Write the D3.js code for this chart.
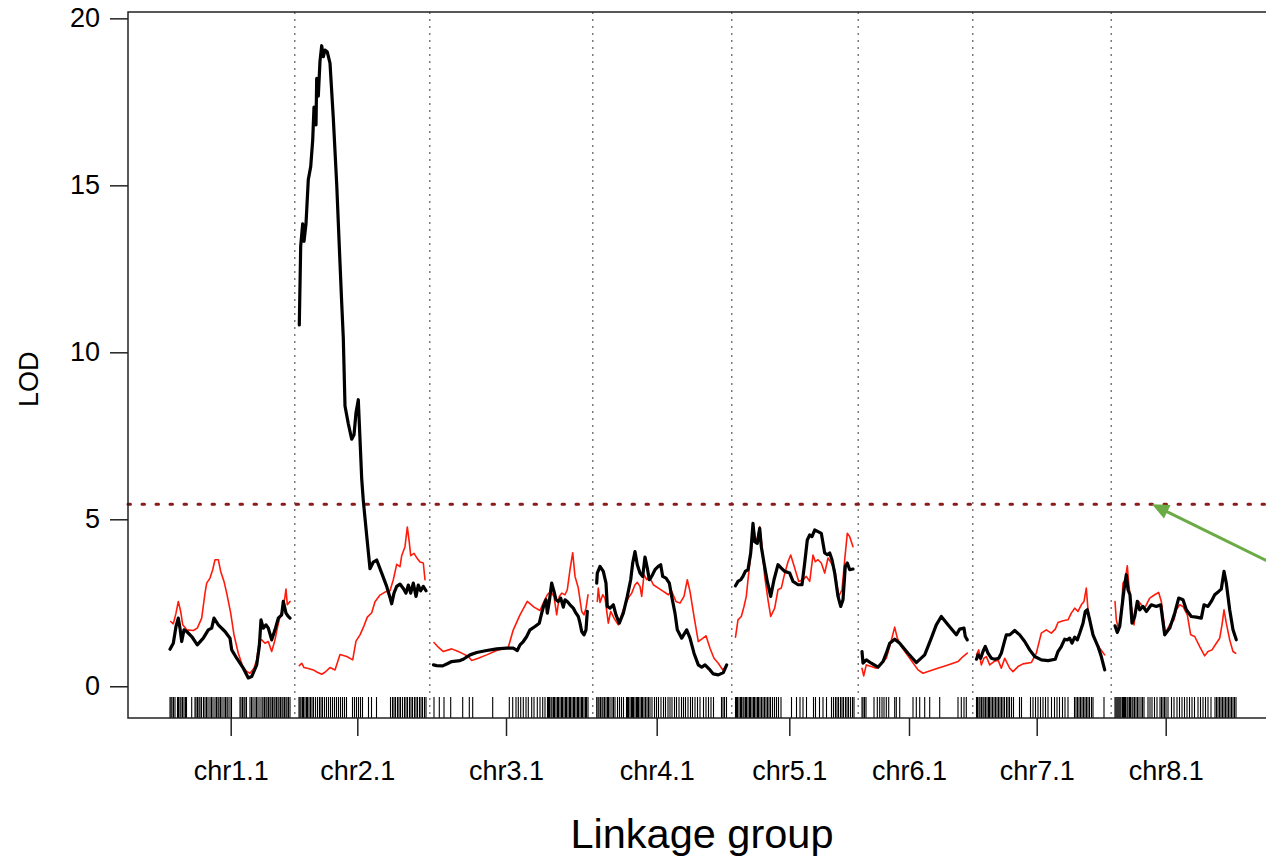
<!DOCTYPE html>
<html>
<head>
<meta charset="utf-8">
<script src="https://cdn.jsdelivr.net/npm/d3@7"></script>
<style>
  html, body { margin: 0; padding: 0; background: #fff; }
  svg { display: block; font-family: "Liberation Sans", Helvetica, Arial, sans-serif; }
</style>
</head>
<body>
<svg id="chart" width="1266" height="858"></svg>
<script>
// ---- genome layout (cM) ----
const chrNames   = ["chr1.1", "chr2.1", "chr3.1", "chr4.1", "chr5.1", "chr6.1", "chr7.1", "chr8.1"];
const chrLengths = [121, 127.5, 155.5, 131.5, 119, 107, 131, 122];
const chrLabelPos = [60.7, 58.8, 72.5, 60.2, 53.8, 47, 60.2, 50.7];
const chrGap = 7.5;
const lodTicks = [0, 5, 10, 15, 20];
const threshold = 5.45;

// ---- LOD profile, trait 1 (black): [position cM, LOD] ----
const lod1Chr1 = [[0,1.11],[3.3,1.29],[6,1.79],[8.3,2.04],[10,1.74],[11.7,1.34],[14,1.69],[16.7,1.64],[21.7,1.49],[27.3,1.24],[33.3,1.44],[38.3,1.69],[41.7,1.74],[44,2.04],[48.3,1.84],[55,1.64],[60,1.44],[61.7,1.09],[66.7,0.84],[73.3,0.54],[78.3,0.25],[81.7,0.29],[86.7,0.64],[89.3,1.19],[91,1.99],[93.3,1.74],[96,1.84],[98.3,1.74],[101.7,1.39],[105,1.69],[108.3,2.04],[111.7,2.14],[113.3,2.54],[116,2.19],[118.3,2.09],[120,2.04]];
const lod1Chr2 = [[0.8,10.82],[2.2,13.19],[4.2,13.85],[5.5,13.32],[7.5,13.85],[9.8,15.17],[12.2,15.56],[14.2,16.35],[15.5,17.34],[17.5,16.81],[18.2,18.2],[19.8,17.67],[21.5,18.72],[23.2,19.18],[24.8,18.85],[26.5,19.05],[28.8,18.99],[31.5,18.66],[34.8,17.01],[38.2,15.04],[41.5,12.67],[43.2,11.48],[44.8,10.43],[46.5,8.39],[49.8,7.86],[53.2,7.4],[55.5,7.53],[57.5,8.19],[59.8,8.58],[61.5,7.4],[63.2,6.22],[64.8,5.56],[68.2,4.51],[71.5,3.52],[74.8,3.72],[78.2,3.78],[83.2,3.39],[88.2,2.99],[91.5,2.66],[93.2,2.47],[95.5,2.79],[98.2,2.99],[101.5,3.06],[104.8,2.93],[107.5,2.79],[109.8,3.03],[112.2,2.79],[114.8,3.09],[117.5,2.69],[119.8,3.03],[122.2,2.86],[124.8,2.99],[127.5,2.86]];
const lod1Chr3 = [[0,0.64],[3.2,0.62],[9.2,0.61],[14.8,0.69],[18.2,0.74],[26.5,0.77],[29.8,0.81],[36.5,0.94],[43.2,1.01],[53.2,1.07],[63.2,1.12],[73.2,1.14],[79.8,1.14],[83.8,1.07],[86.5,1.24],[89.8,1.34],[93.2,1.49],[96.5,1.69],[101.5,1.79],[105.8,1.89],[108.2,2.19],[110.5,2.44],[112.5,2.59],[113.8,2.19],[115.8,2.54],[118.2,3.09],[120.5,2.84],[122.5,2.59],[124.8,2.54],[127.2,2.64],[129.8,2.37],[131.5,2.59],[133.8,2.54],[136.5,2.44],[139.8,2.34],[142.5,2.19],[144.8,2.09],[146.5,1.89],[148.2,1.64],[150.5,1.54],[152.5,1.69],[153.8,2.24]];
const lod1Chr4 = [[0.2,3.09],[0.8,3.39],[3.5,3.59],[6.8,3.44],[9.5,3.09],[10.8,2.39],[13.5,2.34],[16.8,2.44],[19.5,2.14],[22.8,1.89],[26.8,2.19],[30.8,2.69],[34.2,3.19],[36.2,3.69],[38.5,4.03],[40.8,3.64],[43.5,3.39],[46.2,3.29],[48.5,3.87],[50.8,3.54],[52.8,3.19],[55.2,3.29],[58.5,3.49],[61.8,3.59],[64.2,3.64],[66.2,3.29],[69.5,3.24],[72.8,3.09],[75.2,2.69],[78.5,2.19],[80.8,1.69],[85.2,1.44],[90.2,1.69],[93.5,1.44],[97.5,0.99],[101.8,0.64],[105.2,0.57],[108.5,0.64],[113.5,0.49],[116.8,0.37],[121.8,0.34],[126.8,0.41],[130.2,0.64]];
const lod1Chr5 = [[0,3.01],[2.5,3.14],[5.2,3.19],[7.5,3.29],[9.8,3.44],[12.5,3.49],[15.2,3.99],[17.5,4.88],[19.2,4.33],[21.8,4.28],[24.2,4.73],[25.8,4.18],[28.5,3.69],[31.8,3.14],[35.2,2.69],[38.5,3.19],[42.5,3.64],[45.8,3.54],[49.2,3.44],[54.2,3.39],[57.5,3.14],[62.5,3.04],[66.5,3.04],[69.2,3.69],[71.8,4.38],[74.2,4.53],[76.5,4.48],[79.2,4.68],[82.5,4.63],[85.8,4.58],[89.2,3.99],[91.8,3.94],[94.2,3.99],[96.5,3.79],[99.2,3.39],[102.5,2.69],[105.2,2.39],[107.5,2.59],[109.8,3.59],[111.8,3.69],[114.2,3.49],[117.5,3.51]];
const lod1Chr6 = [[0,1.04],[1,0.69],[4.3,0.79],[9.3,0.69],[16,0.57],[21,0.74],[24.3,0.99],[27.7,1.29],[32.7,1.41],[37.7,1.29],[46,0.99],[54.3,0.71],[62.7,0.94],[69.3,1.44],[74.3,1.84],[79.3,2.09],[86,1.84],[94.3,1.54],[97.7,1.71],[102,1.74],[103.3,1.49],[105.3,1.39]];
const lod1Chr7 = [[0,0.81],[1.5,0.94],[4.2,0.84],[6.5,1.04],[8.8,1.19],[11.5,0.99],[14.8,0.84],[18.2,0.81],[22.2,0.84],[24.8,0.99],[27.5,1.29],[29.8,1.54],[33.2,1.54],[38.2,1.67],[43.2,1.54],[48.2,1.34],[53.2,1.09],[58.2,0.89],[64.8,0.79],[71.5,0.77],[78.8,0.81],[81.5,1.04],[84.8,1.19],[88.2,1.41],[90.8,1.39],[93.2,1.44],[95.5,1.29],[98.2,1.47],[100.8,1.39],[103.2,1.59],[106.5,1.89],[108.8,2.24],[110.8,2.29],[113.2,1.99],[116.5,1.54],[121.5,1.19],[124.8,0.89],[128.2,0.49]];
const lod1Chr8 = [[0,1.81],[2.3,1.61],[4.7,1.79],[7,2.39],[9,2.89],[11.3,3.34],[13,2.89],[15,2.74],[17,1.89],[19.7,2.09],[22.3,2.54],[24.7,2.29],[28,2.39],[31.3,2.24],[36.3,2.44],[41.3,2.39],[45.7,2.44],[49.7,1.54],[54.7,1.74],[59.7,2.19],[63.7,2.64],[68,2.59],[71.3,2.29],[76.3,2.09],[81.3,2.07],[86.3,2.04],[89,2.44],[93,2.39],[96.3,2.54],[99.7,2.74],[103.7,2.84],[106.3,2.91],[109,3.44],[111.3,3.09],[114.7,2.29],[118,1.69],[121.3,1.39]];

// ---- LOD profile, trait 2 (red): [position cM, LOD] ----
const lod2Chr1 = [[0.7,1.94],[3.3,1.87],[6,2.19],[8.3,2.54],[10.7,2.24],[12.7,1.84],[16.7,1.69],[23.3,1.67],[27.3,1.74],[31.7,2.04],[35,2.79],[36.7,3.09],[40,3.24],[42.7,3.49],[45,3.79],[48.3,3.79],[50.7,3.44],[54,3.14],[56.7,2.79],[60.7,2.19],[64,1.54],[68.3,0.99],[72.7,0.59],[76.7,0.44],[80,0.39],[84,0.54],[86.7,0.79],[89.3,1.39],[91.7,1.39],[95,1.29],[98.3,1.34],[101.7,1.04],[105,1.39],[107.3,1.74],[110,2.09],[112.7,2.29],[115,2.69],[116,2.91],[117.3,2.44],[120,2.54]];
const lod2Chr2 = [[0.8,0.62],[3.2,0.69],[5.5,0.56],[9.8,0.53],[14.8,0.49],[18.8,0.42],[23.2,0.36],[26.5,0.42],[31.5,0.56],[36.5,0.49],[41.5,0.95],[48.2,0.89],[54.2,0.79],[57.5,1.35],[61.5,1.54],[65.5,1.81],[68.8,2.07],[73.2,2.2],[76.5,2.53],[81.5,2.73],[86.5,2.82],[91.5,2.86],[94.8,3.19],[98.2,3.65],[101.5,3.58],[103.2,3.91],[106.5,4.18],[108.8,4.77],[110.8,4.31],[112.2,3.91],[115.5,3.98],[118.2,3.85],[121.5,3.72],[124.8,3.69],[126.5,3.19]];
const lod2Chr3 = [[0.5,1.31],[4.8,1.17],[9.8,1.04],[18.2,1.12],[24.8,1.04],[29.8,0.97],[34.8,0.89],[38.2,0.77],[44.8,0.84],[53.2,0.94],[63.2,1.07],[74.8,1.17],[79.8,1.69],[86.5,2.14],[93.8,2.54],[100.5,2.37],[106.5,2.27],[110.5,2.54],[113.8,2.74],[117.2,2.84],[120.5,2.69],[123.2,2.14],[125.8,2.69],[128.2,2.79],[131.5,2.74],[133.8,2.89],[136.5,3.49],[139.2,4.0],[141.5,3.29],[144.8,2.94],[148.2,2.24],[150.5,2.14],[152.5,2.34],[154.5,2.74]];
const lod2Chr4 = [[0.8,2.54],[1.8,2.94],[3.5,2.51],[6.2,2.74],[8.5,2.64],[11.8,1.89],[14.2,2.24],[17.5,2.04],[21.8,1.84],[26.8,2.29],[31.8,2.64],[35.2,2.79],[38.5,3.04],[40.8,3.11],[43.5,2.99],[45.2,2.69],[47.5,3.34],[50.2,3.19],[52.8,3.29],[56.8,3.04],[61.8,2.94],[66.8,2.84],[71.8,2.74],[75.2,2.84],[79.5,2.54],[83.5,2.49],[87.5,2.69],[90.8,3.19],[93.5,2.84],[97.5,2.09],[101.8,1.34],[105.2,1.41],[109.5,1.51],[113.5,1.14],[117.5,0.84],[121.8,0.69],[126.2,0.49],[129.5,0.59]];
const lod2Chr5 = [[0,1.47],[2.5,1.99],[5.8,2.09],[8.5,2.39],[10.8,2.69],[13.2,3.39],[15.8,4.08],[18.5,4.68],[20.8,4.28],[24.2,4.78],[26.5,4.18],[29.2,3.29],[32.5,2.59],[35.2,2.09],[39.2,2.34],[42.5,2.89],[45.8,2.94],[48.5,3.29],[52.5,3.73],[55.2,3.93],[59.2,3.54],[63.2,3.14],[67.5,3.19],[70.8,3.29],[74.2,3.14],[77.5,3.93],[79.8,3.73],[82.5,3.79],[85.8,3.69],[89.2,3.39],[92.5,3.84],[95.8,3.69],[99.2,3.49],[103.2,2.69],[106.5,2.89],[109.2,3.79],[111.8,4.58],[114.2,4.48],[117.5,4.18]];
const lod2Chr6 = [[0,0.54],[1.7,0.31],[4.3,0.64],[9.3,0.59],[14.3,0.54],[19.3,0.67],[24.3,0.84],[27.7,1.19],[30.3,1.49],[32.7,1.77],[35.3,1.44],[39.3,1.19],[47.7,0.84],[56,0.49],[61,0.39],[72.7,0.51],[86,0.64],[96,0.74],[101,0.89],[105.3,0.99]];
const lod2Chr7 = [[0,0.94],[2.2,1.09],[4.8,0.64],[7.5,0.84],[9.8,0.89],[13.2,0.64],[17.5,0.74],[21.5,0.79],[24.8,0.54],[28.2,0.84],[33.2,0.54],[36.5,0.44],[41.5,0.59],[46.5,0.67],[54.8,0.71],[59.8,0.99],[64.8,1.59],[69.8,1.69],[74.8,1.59],[78.8,1.71],[81.5,1.91],[86.5,1.96],[91.5,1.99],[94.8,2.19],[98.2,2.34],[101.5,2.24],[104.8,2.44],[107.5,2.54],[109.8,2.94],[111.5,2.29],[114.8,1.74],[118.2,1.39],[123.2,1.14],[128.2,0.94]];
const lod2Chr8 = [[0,2.54],[1.3,1.99],[3.7,1.69],[6.3,2.19],[8,3.09],[10.3,3.19],[12.3,3.61],[13.7,3.09],[16.3,2.39],[19,1.84],[21.3,2.39],[23.7,2.54],[26.3,2.44],[29.7,2.34],[34.7,2.64],[39.7,2.74],[43.7,2.81],[46.3,2.54],[50.3,1.59],[54.7,1.84],[59,1.99],[61.3,2.29],[64.7,2.44],[68,2.39],[72.3,2.14],[75.7,1.54],[79.7,1.49],[84.7,1.19],[89.7,0.91],[93,1.04],[97,1.09],[101.3,1.29],[104.7,1.44],[107,1.84],[109,2.29],[111.3,1.89],[114.7,1.39],[118,1.04],[120.7,0.99]];

// ---- marker positions (cM) for the rug ----
const markersChr1 = [0,1,2,3.5,5,7.5,8.5,10,11,12.5,14,15.5,16.5,21.7,25,26,27.5,29,30,31.5,33.5,35,36.5,38,40,41.5,43,45,46.5,48,49,50.5,52,54,55.5,57,58,60,61.5,70,71,72.5,74,75,76.5,80,81.5,83,85,86.5,88,90,92,93,94.5,96,97,98.5,100,101,102.5,104,105,106.5,108,109,110.5,112,113,114.5,116,117,118.5,120];
const markersChr2 = [0.5,1.5,2.5,4,5,6.5,8,9,10.5,12,13.5,15,17,19,21,22.5,24,26,28,30,32,34,36,38,40,42,44,46,48,54,56,58,60,62,64,70,73,78,92,94,95.5,97,99,100.5,102,104,106,107.5,109,111,112.5,114,116,117.5,119,121,122.5,124,126,127.5];
const markersChr3 = [0.5,5.8,10.5,17.2,29.2,35.8,39.2,59.2,75.8,79.2,82.5,84.8,87.2,89.8,92.5,94.8,98.2,100.5,103.8,106.5,109.2,111.5,114,115,116,117.5,118.5,120,121,122.5,124,125,126.5,128,129,130.5,132,133,134.5,136,137,138.5,140,141,142.5,144,145,146.5,148,149,150.5,152,153,154.5];
const markersChr4 = [0.2,1.5,2.5,4,5.5,6.5,8,9.5,11,12,13.5,15.5,17,18.5,21,23,25,27,30,31,32,33.5,35,36,37,38.5,40,41,42,43.5,45,46,47.5,49,50.5,52,53.5,55.5,58,60,62,64.5,67,69,71.5,73.5,75.5,78,80,82.5,85,87,89,91.5,94,96,98.5,101,103.5,107,109.5,112,114.5,117,125,126.5,128,130];
const markersChr5 = [0,1,2,3.5,5,6,7.5,8.5,10,11,12.5,14,15,16.5,18,19,20.5,22,23,24.5,26,27.5,29,30.5,32,33.5,35,37,39,41,43,45.5,56,61,64.5,67.5,71,78,80,84,87.5,91,96,98,100,101.5,103,105,106.5,108,110,111.5,113,115,117,118.5];
const markersChr6 = [0,1,2.5,4,12,15.3,17.7,20,22,24.3,26.7,32.7,34.3,37.7,51,54.3,57.7,62.7,67.7,77.7,96,99.3,102,104.3];
const markersChr7 = [0,1,2.5,3.5,5,6.5,7.5,9,10.5,12,13,14.5,16,17.5,19,20.5,22,23.5,25,26.5,28,30,31.5,33,35,37,43,45,54,56.5,59,61.5,64,66.5,69,71.5,75,78,80.5,83,86,88.5,91.5,98,99.5,101,102.5,104,105.5,107,108.5,110,111.5,113,115,116.5,127.5];
const markersChr8 = [0,1,2,3,4,5,6,7.5,8.5,9.5,10.5,12,13,14.5,15.5,17,18,19.5,21,22.5,24,26,27.5,29,33,35,37,39.5,42,45,46.5,48,49.5,51,53,56.5,59,62,64.5,67,69.5,72,74.5,77,79.5,83,85.5,88,90.5,93,96,100,101.5,103,104.5,106,107.5,109,110.5,112,113.5,115,116.5,118,119.5,121];

const lod1 = [lod1Chr1, lod1Chr2, lod1Chr3, lod1Chr4, lod1Chr5, lod1Chr6, lod1Chr7, lod1Chr8];
const lod2 = [lod2Chr1, lod2Chr2, lod2Chr3, lod2Chr4, lod2Chr5, lod2Chr6, lod2Chr7, lod2Chr8];
const markers = [markersChr1, markersChr2, markersChr3, markersChr4, markersChr5, markersChr6, markersChr7, markersChr8];

// cumulative start of each chromosome along the genome axis
const chrStart = [];
chrLengths.reduce((acc, len, i) => { chrStart[i] = acc; return acc + len + chrGap; }, 0);

// ---- layout ----
const plot = { left: 128, right: 1292, top: 12, bottom: 718 };
const fontSize = 27;
const fontFamily = "Liberation Sans, Helvetica, Arial, sans-serif";

const svg = d3.select("#chart");

const x = d3.scaleLinear().domain([-42, 1122]).range([plot.left, plot.right]);
const y = d3.scaleLinear().domain([-0.95, 20.19]).range([plot.bottom, plot.top]);

// chromosome separators (middle of each gap)
svg.append("g")
  .selectAll("line")
  .data(chrStart.slice(1))
  .join("line")
  .attr("x1", d => x(d - chrGap / 2))
  .attr("x2", d => x(d - chrGap / 2))
  .attr("y1", plot.top)
  .attr("y2", plot.bottom)
  .attr("stroke", "#7a7a7a")
  .attr("stroke-width", 1.5)
  .attr("stroke-dasharray", "2,5");

// significance threshold
svg.append("line")
  .attr("x1", plot.left)
  .attr("x2", plot.right)
  .attr("y1", y(threshold))
  .attr("y2", y(threshold))
  .attr("stroke", "#8b1a1a")
  .attr("stroke-width", 3)
  .attr("stroke-linecap", "round")
  .attr("stroke-dasharray", "2.5,11.5");

// marker rug
const rug = svg.append("g");
markers.forEach((ms, i) => {
  rug.selectAll(null)
    .data(ms)
    .join("line")
    .attr("x1", d => x(chrStart[i] + d))
    .attr("x2", d => x(chrStart[i] + d))
    .attr("y1", plot.bottom)
    .attr("y2", plot.bottom - 21)
    .attr("stroke", "#000")
    .attr("stroke-width", 1.1);
});

// LOD curves
const line = d3.line()
  .x(d => x(d[0]))
  .y(d => y(d[1]));

function drawProfiles(profiles, color, width) {
  const g = svg.append("g");
  profiles.forEach((pts, i) => {
    g.append("path")
      .datum(pts.map(p => [chrStart[i] + p[0], p[1]]))
      .attr("d", line)
      .attr("fill", "none")
      .attr("stroke", color)
      .attr("stroke-width", width)
      .attr("stroke-linejoin", "round")
      .attr("stroke-linecap", "round");
  });
}
drawProfiles(lod2, "#ff1a0a", 1.6);
drawProfiles(lod1, "#000000", 3.2);

// frame
svg.append("rect")
  .attr("x", plot.left)
  .attr("y", plot.top)
  .attr("width", plot.right - plot.left)
  .attr("height", plot.bottom - plot.top)
  .attr("fill", "none")
  .attr("stroke", "#222")
  .attr("stroke-width", 1.5);

// y axis
const yAxis = svg.append("g")
  .attr("transform", `translate(${plot.left},0)`)
  .call(d3.axisLeft(y).tickValues(lodTicks).tickSize(18).tickPadding(10).tickFormat(d3.format("d")));
yAxis.select(".domain").remove();
yAxis.selectAll(".tick line").attr("stroke", "#222").attr("stroke-width", 1.5);
yAxis.selectAll("text").attr("font-size", fontSize).attr("font-family", fontFamily).attr("fill", "#000");

// x axis (chromosome labels)
const xAxis = svg.append("g")
  .attr("transform", `translate(0,${plot.bottom})`)
  .call(d3.axisBottom(x)
    .tickValues(chrLabelPos.map((p, i) => chrStart[i] + p))
    .tickFormat((d, i) => chrNames[i])
    .tickSize(18)
    .tickPadding(25));
xAxis.select(".domain").remove();
xAxis.selectAll(".tick line").attr("stroke", "#222").attr("stroke-width", 1.5);
xAxis.selectAll("text").attr("font-size", fontSize).attr("font-family", fontFamily).attr("fill", "#000");

// axis titles
svg.append("text")
  .attr("transform", `translate(38,${(y(0) + y(20)) / 2 + 27}) rotate(-90)`)
  .attr("text-anchor", "middle")
  .attr("font-size", fontSize)
  .text("LOD");

svg.append("text")
  .attr("x", 702)
  .attr("y", 848)
  .attr("text-anchor", "middle")
  .attr("font-size", 41.5)
  .text("Linkage group");

// annotation arrow pointing at the threshold line
const arrowTipX = x(chrStart[7] + 37), arrowTipY = y(threshold);
const dir = [114.3, 56.3];
const len = Math.hypot(dir[0], dir[1]);
const ux = dir[0] / len, uy = dir[1] / len;
const arrowColor = "#6aab45";
svg.append("line")
  .attr("x1", arrowTipX + ux * 12)
  .attr("y1", arrowTipY + uy * 12)
  .attr("x2", arrowTipX + ux * 170)
  .attr("y2", arrowTipY + uy * 170)
  .attr("stroke", arrowColor)
  .attr("stroke-width", 3);
const headLen = 17, headHalf = 7.5;
const bx = arrowTipX + ux * headLen, by = arrowTipY + uy * headLen;
svg.append("path")
  .attr("d", `M${arrowTipX},${arrowTipY} L${bx - uy * headHalf},${by + ux * headHalf} L${bx + uy * headHalf},${by - ux * headHalf} Z`)
  .attr("fill", arrowColor);
</script>
</body>
</html>
